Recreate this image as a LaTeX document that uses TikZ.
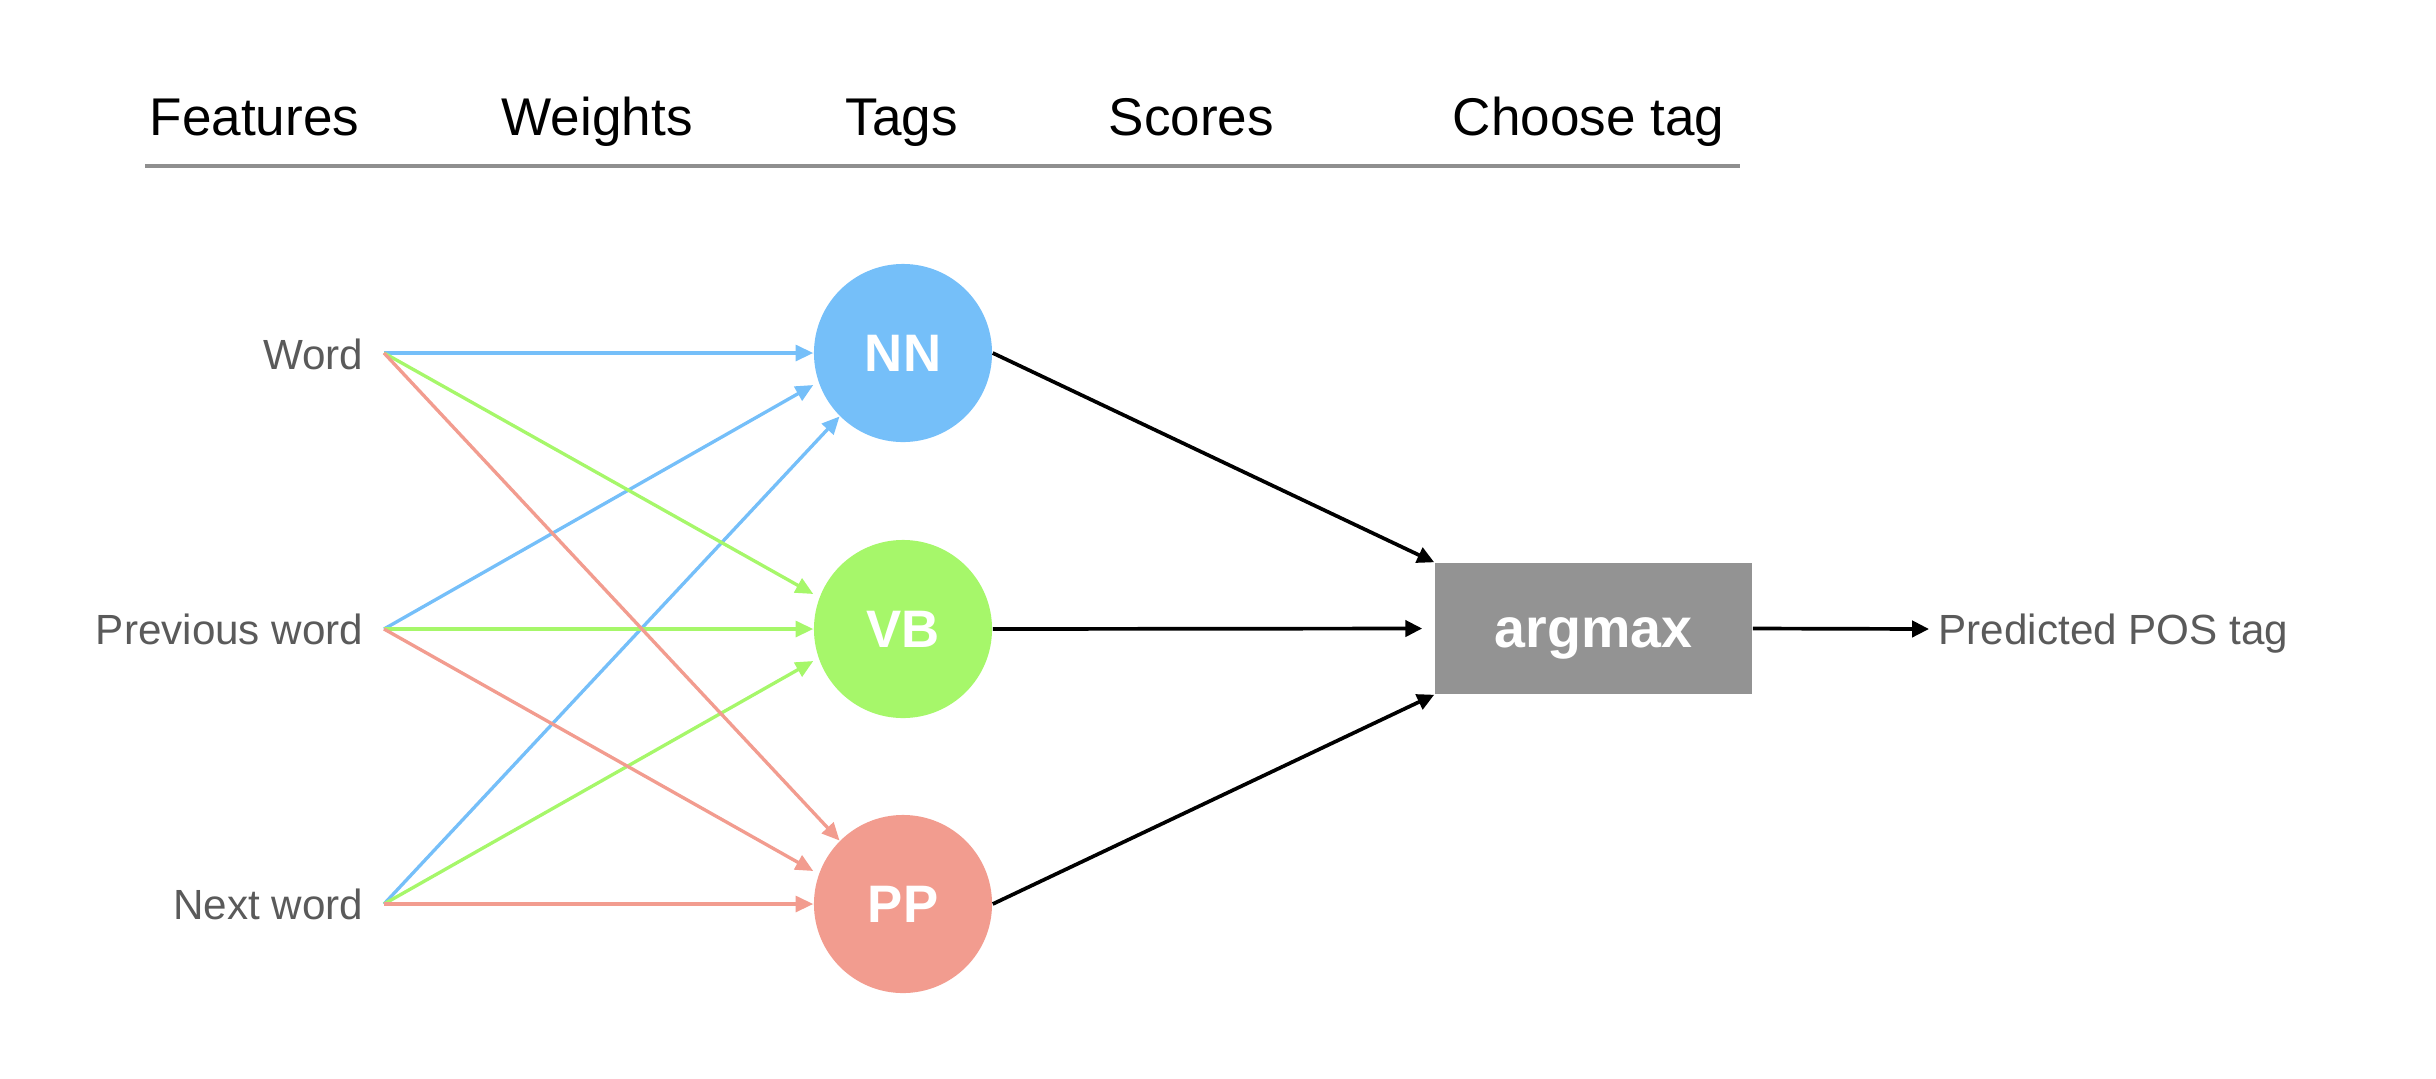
\documentclass[tikz,border=0pt]{standalone}
\usepackage{fontspec}
\setmainfont{Liberation Sans}
\usetikzlibrary{arrows.meta}
\definecolor{nnblue}{HTML}{75BFF9}
\definecolor{vbgreen}{HTML}{A6F76A}
\definecolor{pppink}{HTML}{F29C8F}
\definecolor{boxgray}{HTML}{939393}
\definecolor{labgray}{HTML}{5A5A5A}
\definecolor{rulegray}{HTML}{8F8F8F}
\begin{document}
\begin{tikzpicture}[x=0.01cm,y=-0.01cm,
  hdr/.style={anchor=base west, inner sep=0, font=\fontsize{15.1pt}{18pt}\selectfont},
  feat/.style={anchor=base east, inner sep=0, text=labgray, font=\fontsize{12pt}{14pt}\selectfont},
  tagnode/.style={circle, minimum size=1.78cm, inner sep=0, text=white, font=\fontsize{15pt}{18pt}\selectfont\bfseries},
  wire/.style={line width=0.95pt, -{Triangle[length=5pt,width=4.5pt]}},
  blk/.style={line width=1.05pt, black, -{Triangle[length=4.8pt,width=4.6pt]}}
]
\useasboundingbox (0,0) rectangle (2436,1078);

% header
\node[hdr] (hf) at (149,135) {Features};
\node[hdr] (hw) at (501,135) {Weights};
\node[hdr] (ht) at (845,135) {Tags};
\node[hdr] (hs) at (1108,135) {Scores};
\node[hdr] (hc) at (1452,135) {Choose tag};
\coordinate (rl) at (145,166);
\coordinate (rr) at (1740,166);
\draw[rulegray, line width=1pt] (rl) -- (rr);

% features
\node[feat] (fw) at (364,369) {Word};
\node[feat] (fp) at (364,644) {Previous word};
\node[feat] (fn) at (364,919) {Next word};
\coordinate (sw) at (384,353);
\coordinate (sp) at (384,629);
\coordinate (sn) at (384,904);

% tags
\node[tagnode, fill=nnblue] (NN) at (903,353) {NN};
\node[tagnode, fill=vbgreen] (VB) at (903,629) {VB};
\node[tagnode, fill=pppink] (PP) at (903,904) {PP};

% wires
\draw[wire, nnblue] (sw) -- (NN.west);
\draw[wire, nnblue] (sp) -- ([yshift=-0.32cm]NN.west);
\draw[wire, nnblue] (sn) -- (NN.225);
\draw[wire, vbgreen] (sw) -- ([yshift=0.35cm]VB.west);
\draw[wire, vbgreen] (sp) -- (VB.west);
\draw[wire, vbgreen] (sn) -- ([yshift=-0.32cm]VB.west);
\draw[wire, pppink] (sw) -- (PP.135);
\draw[wire, pppink] (sp) -- ([yshift=0.33cm]PP.west);
\draw[wire, pppink] (sn) -- (PP.west);

% argmax
\node[fill=boxgray, minimum width=3.17cm, minimum height=1.31cm, inner sep=0, text=white,
      text height=0.37cm, text depth=0pt,
      font=\fontsize{15.8pt}{18pt}\selectfont\bfseries] (am) at (1593.5,628.5) {argmax};
\draw[blk] (NN.east) -- (am.north west);
\draw[blk] (VB.east) -- ([xshift=-0.12cm]am.west);
\draw[blk] (PP.east) -- (am.south west);

\node[anchor=base west, inner sep=0, text=labgray, font=\fontsize{12pt}{14pt}\selectfont] (pred) at (1938,644) {Predicted POS tag};
\coordinate (out) at (1929,629);
\draw[blk] (am.east) -- (out);
\end{tikzpicture}
\end{document}
